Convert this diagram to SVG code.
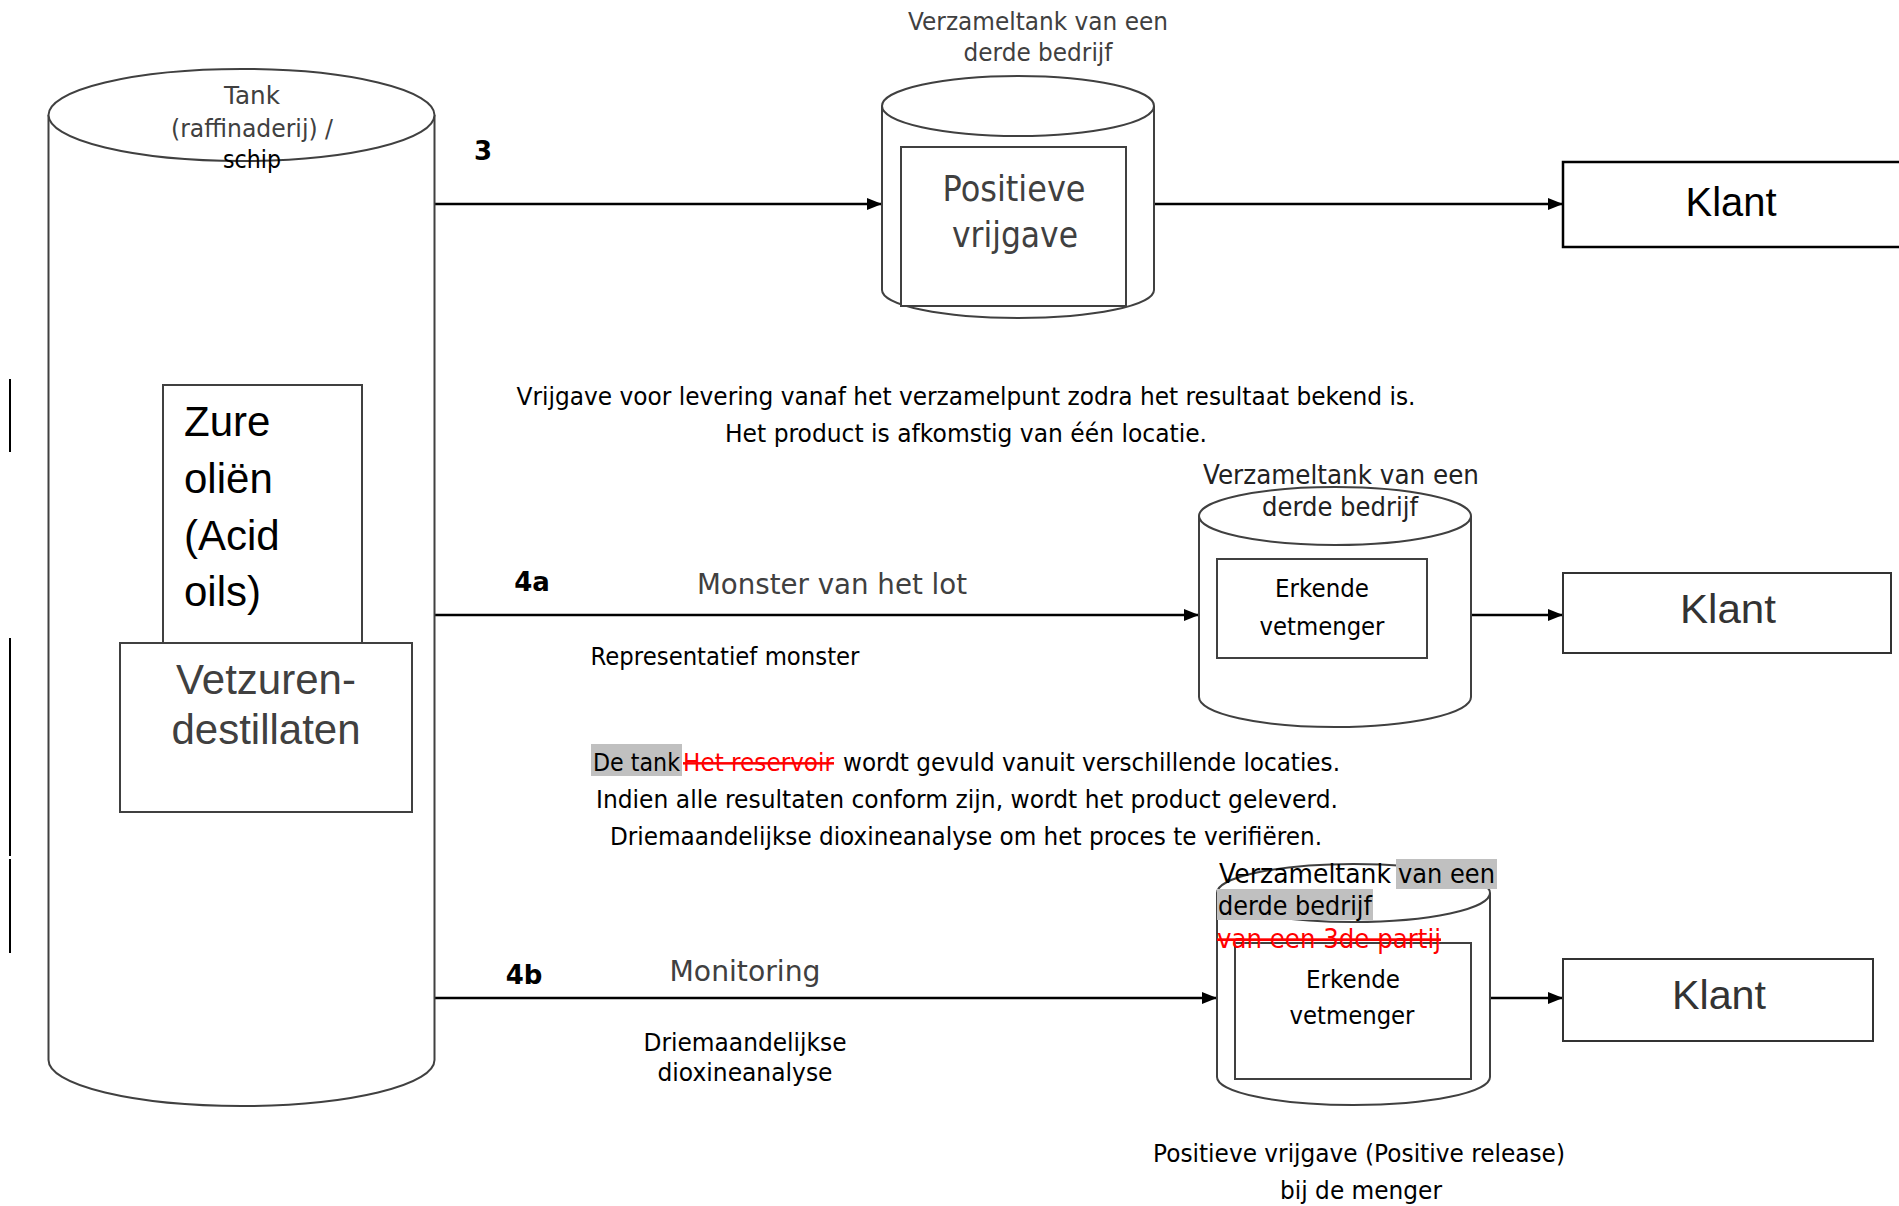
<svg xmlns="http://www.w3.org/2000/svg" width="1899" height="1206" viewBox="0 0 1899 1206">
<defs>
<style>
.sh{fill:#fff;stroke:#404040;stroke-width:2}
.box{fill:#fff;stroke:#000;stroke-width:2.5}
.bx2{fill:#fff;stroke:#333;stroke-width:2}
.conn{stroke:#000;stroke-width:2.5;fill:none}
.t{font-family:'DejaVu Sans',Verdana,sans-serif}
.a{font-family:'Liberation Sans',Arial,sans-serif}
.b{font-family:'DejaVu Sans',Verdana,sans-serif;font-weight:bold;fill:#000}
.g{fill:#404040}
.k{fill:#000}
.m{text-anchor:middle}
.red{fill:#ff0000;text-decoration:line-through}
.hl{fill:#c0c0c0}
.sep{stroke:#000;stroke-width:2}
</style>
<marker id="ah" markerUnits="userSpaceOnUse" markerWidth="15" markerHeight="12" refX="15" refY="6" orient="auto"><path d="M0,0 L15,6 L0,12 z" fill="#000"/></marker>
</defs>
<rect width="1899" height="1206" fill="#fff"/>

<g id="margin-bars">
<line class="sep" x1="10" y1="379" x2="10" y2="452"/>
<line class="sep" x1="10" y1="638" x2="10" y2="856"/>
<line class="sep" x1="10" y1="859" x2="10" y2="953"/>
</g>

<g id="connectors">
<line class="conn" x1="435" y1="204" x2="882" y2="204" marker-end="url(#ah)"/>
<line class="conn" x1="1154" y1="204" x2="1563" y2="204" marker-end="url(#ah)"/>
<line class="conn" x1="435" y1="615" x2="1199" y2="615" marker-end="url(#ah)"/>
<line class="conn" x1="1471" y1="615" x2="1563" y2="615" marker-end="url(#ah)"/>
<line class="conn" x1="435" y1="998" x2="1217" y2="998" marker-end="url(#ah)"/>
<line class="conn" x1="1490" y1="998" x2="1563" y2="998" marker-end="url(#ah)"/>
</g>

<g id="tank-main">
<path class="sh" d="M48.5,115 V1060 A193,46 0 0 0 434.5,1060 V115"/>
<ellipse class="sh" cx="241.5" cy="115" rx="193" ry="46"/>
<text class="t g m" x="252" y="104" font-size="25" textLength="56" lengthAdjust="spacingAndGlyphs">Tank</text>
<text class="t g m" x="252" y="137" font-size="25" textLength="162" lengthAdjust="spacingAndGlyphs">(raffinaderij) /</text>
<text class="t k m" x="252" y="168" font-size="25" textLength="58" lengthAdjust="spacingAndGlyphs">schip</text>
</g>

<g id="zure-olien">
<rect class="sh" x="163" y="385" width="199" height="258"/>
<text class="a k" x="184" y="436" font-size="42">Zure</text>
<text class="a k" x="184" y="493" font-size="42">oliën</text>
<text class="a k" x="184" y="550" font-size="42">(Acid</text>
<text class="a k" x="184" y="606" font-size="42">oils)</text>
</g>

<g id="vetzuren">
<rect class="sh" x="120" y="643" width="292" height="169"/>
<text class="a g m" x="266" y="694" font-size="42">Vetzuren-</text>
<text class="a g m" x="266" y="744" font-size="42">destillaten</text>
</g>

<g id="label-3">
<text class="b m" x="483" y="160" font-size="26">3</text>
</g>

<g id="tank-verzamel-1">
<text class="t g m" x="1038" y="30" font-size="25" textLength="260" lengthAdjust="spacingAndGlyphs">Verzameltank van een</text>
<text class="t g m" x="1038" y="61" font-size="25" textLength="149" lengthAdjust="spacingAndGlyphs">derde bedrijf</text>
<path class="sh" d="M882,106 V290 A136,28 0 0 0 1154,290 V106"/>
<ellipse class="sh" cx="1018" cy="106" rx="136" ry="30"/>
<rect class="sh" x="901" y="147" width="225" height="159"/>
<text class="t g m" x="1014" y="201" font-size="35" textLength="143" lengthAdjust="spacingAndGlyphs">Positieve</text>
<text class="t g m" x="1015" y="247" font-size="35" textLength="126" lengthAdjust="spacingAndGlyphs">vrijgave</text>
</g>

<g id="klant-1">
<rect class="box" x="1563" y="162" width="400" height="85"/>
<text class="a k m" x="1731" y="216" font-size="40" textLength="91" lengthAdjust="spacingAndGlyphs">Klant</text>
</g>

<g id="note-3">
<text class="t k m" x="966" y="405" font-size="25" textLength="899" lengthAdjust="spacingAndGlyphs">Vrijgave voor levering vanaf het verzamelpunt zodra het resultaat bekend is.</text>
<text class="t k m" x="966" y="442" font-size="25" textLength="482" lengthAdjust="spacingAndGlyphs">Het product is afkomstig van één locatie.</text>
</g>

<g id="label-4a">
<text class="b m" x="532" y="591" font-size="26">4a</text>
<text class="t g m" x="832" y="594" font-size="29" textLength="270" lengthAdjust="spacingAndGlyphs">Monster van het lot</text>
<text class="t k m" x="725" y="665" font-size="25" textLength="269" lengthAdjust="spacingAndGlyphs">Representatief monster</text>
</g>

<g id="tank-verzamel-2">
<path class="sh" d="M1199,516 V697 A136,30 0 0 0 1471,697 V516"/>
<ellipse class="sh" cx="1335" cy="516" rx="136" ry="29"/>
<text class="t m" fill="#222" x="1341" y="484" font-size="26" textLength="276" lengthAdjust="spacingAndGlyphs">Verzameltank van een</text>
<text class="t m" fill="#222" x="1340" y="516" font-size="26" textLength="156" lengthAdjust="spacingAndGlyphs">derde bedrijf</text>
<rect class="sh" x="1217" y="559" width="210" height="99"/>
<text class="t k m" x="1322" y="597" font-size="25" textLength="94" lengthAdjust="spacingAndGlyphs">Erkende</text>
<text class="t k m" x="1322" y="635" font-size="25" textLength="125" lengthAdjust="spacingAndGlyphs">vetmenger</text>
</g>

<g id="klant-2">
<rect class="bx2" x="1563" y="573" width="328" height="80"/>
<text class="a m" fill="#333" x="1728" y="623" font-size="40" textLength="96" lengthAdjust="spacingAndGlyphs">Klant</text>
</g>

<g id="note-4a">
<rect class="hl" x="591" y="744" width="91" height="32"/>
<text class="t k" x="593" y="771" font-size="25" textLength="87" lengthAdjust="spacingAndGlyphs">De tank</text>
<text class="t red" x="683" y="771" font-size="25" textLength="151" lengthAdjust="spacingAndGlyphs">Het reservoir</text>
<text class="t k" x="843" y="771" font-size="25" textLength="497" lengthAdjust="spacingAndGlyphs">wordt gevuld vanuit verschillende locaties.</text>
<text class="t k m" x="967" y="808" font-size="25" textLength="742" lengthAdjust="spacingAndGlyphs">Indien alle resultaten conform zijn, wordt het product geleverd.</text>
<text class="t k m" x="966" y="845" font-size="25" textLength="712" lengthAdjust="spacingAndGlyphs">Driemaandelijkse dioxineanalyse om het proces te verifiëren.</text>
</g>

<g id="label-4b">
<text class="b m" x="524" y="984" font-size="26">4b</text>
<text class="t g m" x="745" y="981" font-size="29" textLength="151" lengthAdjust="spacingAndGlyphs">Monitoring</text>
<text class="t k m" x="745" y="1051" font-size="25" textLength="203" lengthAdjust="spacingAndGlyphs">Driemaandelijkse</text>
<text class="t k m" x="745" y="1081" font-size="25" textLength="175" lengthAdjust="spacingAndGlyphs">dioxineanalyse</text>
</g>

<g id="tank-verzamel-3">
<path class="sh" d="M1217,893 V1077 A136.5,28 0 0 0 1490,1077 V893"/>
<ellipse class="sh" cx="1353.5" cy="893" rx="136.5" ry="29"/>
<rect class="sh" x="1235" y="943" width="236" height="136"/>
<rect class="hl" x="1396" y="859" width="101" height="30"/>
<rect class="hl" x="1217" y="889" width="156" height="31"/>
<text class="t k" x="1219" y="883" font-size="27" textLength="172" lengthAdjust="spacingAndGlyphs">Verzameltank</text>
<text class="t k" x="1398" y="883" font-size="27" textLength="97" lengthAdjust="spacingAndGlyphs">van een</text>
<text class="t k" x="1218" y="915" font-size="27" textLength="154" lengthAdjust="spacingAndGlyphs">derde bedrijf</text>
<text class="t red" x="1217" y="948" font-size="27" textLength="224" lengthAdjust="spacingAndGlyphs">van een 3de partij</text>
<text class="t k m" x="1353" y="988" font-size="25" textLength="94" lengthAdjust="spacingAndGlyphs">Erkende</text>
<text class="t k m" x="1352" y="1024" font-size="25" textLength="125" lengthAdjust="spacingAndGlyphs">vetmenger</text>
</g>

<g id="klant-3">
<rect class="bx2" x="1563" y="959" width="310" height="82"/>
<text class="a m" fill="#333" x="1719" y="1009" font-size="40" textLength="94" lengthAdjust="spacingAndGlyphs">Klant</text>
</g>

<g id="note-4b">
<text class="t k m" x="1359" y="1162" font-size="25" textLength="412" lengthAdjust="spacingAndGlyphs">Positieve vrijgave (Positive release)</text>
<text class="t k m" x="1361" y="1199" font-size="25" textLength="162" lengthAdjust="spacingAndGlyphs">bij de menger</text>
</g>
</svg>
